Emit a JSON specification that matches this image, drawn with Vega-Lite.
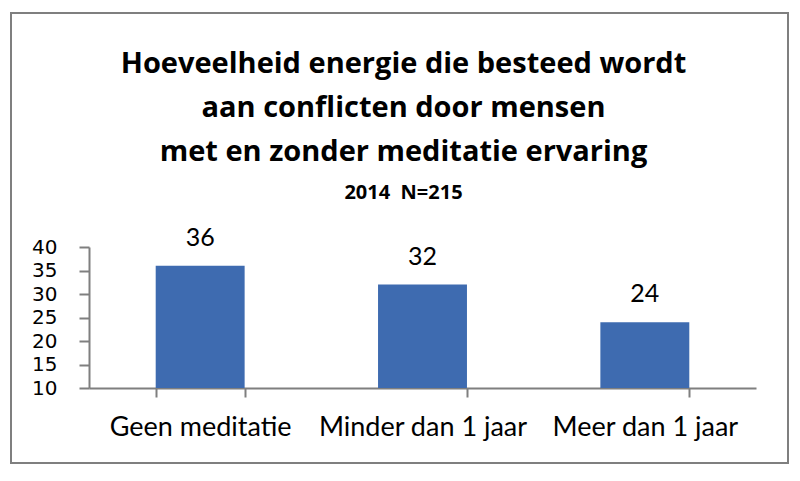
{
  "$schema": "https://vega.github.io/schema/vega-lite/v6.json",
  "width": 777,
  "height": 450,
  "autosize": {"type": "none"},
  "padding": {"left": 11, "top": 13, "right": 12, "bottom": 18},
  "background": "white",
  "title": {
    "text": ["Hoeveelheid energie die besteed wordt", "aan conflicten door mensen", "met en zonder meditatie ervaring"],
    "subtitle": "2014\u00a0 N=215",
    "anchor": "middle",
    "frame": "group",
    "orient": "top",
    "offset": -190,
    "dx": 4,
    "font": "Open Sans",
    "fontSize": 29,
    "fontWeight": "bold",
    "color": "black",
    "lineHeight": 44,
    "subtitleFont": "Open Sans",
    "subtitleFontSize": 20,
    "subtitleFontWeight": "bold",
    "subtitleColor": "black",
    "subtitlePadding": 16
  },
  "data": {
    "values": [
      {"groep": "Geen meditatie", "waarde": 36},
      {"groep": "Minder dan 1 jaar", "waarde": 32},
      {"groep": "Meer dan 1 jaar", "waarde": 24}
    ]
  },
  "encoding": {
    "x": {
      "field": "groep",
      "type": "nominal",
      "sort": null,
      "scale": {"range": [78, 745], "paddingInner": 0.6, "paddingOuter": 0.3},
      "axis": {
        "title": null,
        "orient": "bottom",
        "offset": -75,
        "labelAngle": 0,
        "labelLimit": 0,
        "labelFont": "Lato",
        "labelFontSize": 27,
        "labelColor": "black",
        "labelPadding": 17,
        "domainColor": "#7f7f7f",
        "domainWidth": 2,
        "tickColor": "#7f7f7f",
        "tickWidth": 2,
        "tickSize": 9,
        "tickBand": "extent"
      }
    },
    "y": {
      "field": "waarde",
      "type": "quantitative",
      "scale": {"domain": [10, 40], "range": [375, 234], "zero": false, "nice": false},
      "axis": {
        "title": null,
        "orient": "left",
        "offset": -78,
        "values": [10, 15, 20, 25, 30, 35, 40],
        "labelOverlap": false,
        "labelFont": "DejaVu Sans",
        "labelFontSize": 20,
        "labelColor": "black",
        "labelPadding": 22,
        "domainColor": "#7f7f7f",
        "domainWidth": 2,
        "tickColor": "#7f7f7f",
        "tickWidth": 2,
        "tickSize": 10
      }
    }
  },
  "layer": [
    {"mark": {"type": "bar", "color": "#3E6BB0"}, "encoding": {"y2": {"datum": 10}}},
    {
      "mark": {"type": "text", "dy": -20, "baseline": "alphabetic", "font": "Lato", "fontSize": 25, "color": "black"},
      "encoding": {"text": {"field": "waarde", "type": "quantitative"}}
    }
  ],
  "config": {
    "view": {"stroke": "#7f7f7f", "strokeWidth": 2},
    "axis": {"grid": false}
  }
}
